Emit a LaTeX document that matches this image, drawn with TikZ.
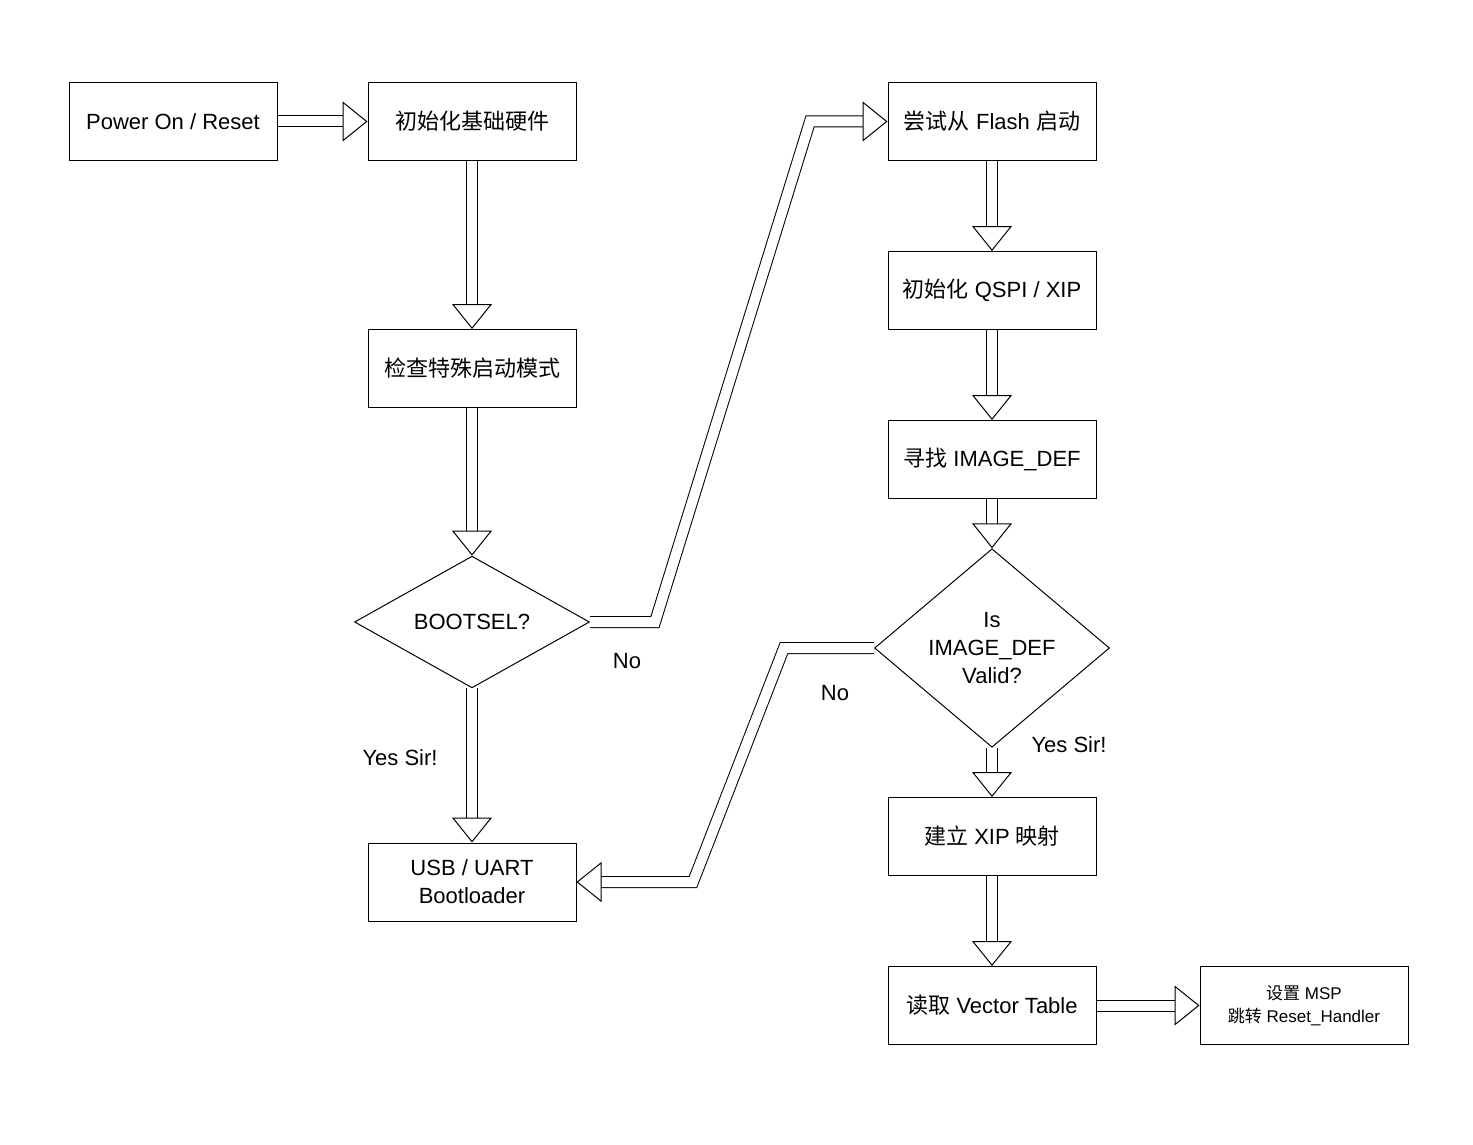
\documentclass[tikz,border=0pt]{standalone}
\usepackage{fontspec}
\setmainfont{Liberation Sans}
\newfontfamily\cjk{Noto Sans CJK SC}
\usetikzlibrary{arrows.meta,shapes.geometric}
\tikzset{
	step box/.style={
		draw,
		line width=1pt,
		minimum width=208pt,
		minimum height=78pt,
		align=center,
		font=\fontsize{22}{28}\selectfont
	},
	check/.style={
		draw,
		diamond,
		line width=1pt,
		minimum width=235pt,
		minimum height=116pt,
		inner sep=0pt,
		align=center,
		font=\fontsize{22}{28}\selectfont
	},
	fat/.style={
		draw,
		line width=1pt,
		double=white,
		double distance=10pt,
		-{Triangle[length=25pt,width=40pt,fill=white,line width=1pt]}
	},
	answer/.style={font=\fontsize{22}{28}\selectfont}
}
\begin{document}
\begin{tikzpicture}[x=1pt, y=-1pt]

\useasboundingbox (0,0) rectangle (1473,1145);

% left column
\node [step box] (power) at (173,121.5) {Power On / Reset};
\node [step box] (init) at (472,121.5) {{\cjk 初始化基础硬件}};
\node [step box] (mode) at (472,368.5) {{\cjk 检查特殊启动模式}};
\node [check] (bootsel) at (472,622) {BOOTSEL?};
\node [step box] (usb) at (472,882) {USB / UART\\Bootloader};

% right column
\node [step box] (flash) at (992,121.5) {{\cjk 尝试从} Flash {\cjk 启动}};
\node [step box] (qspi) at (992,290.5) {{\cjk 初始化} QSPI / XIP};
\node [step box] (find) at (992,459.5) {{\cjk 寻找} IMAGE\_DEF};
\node [check] (valid) at (992,648) {Is\\IMAGE\_DEF\\Valid?};
\node [step box] (map) at (992,836.5) {{\cjk 建立} XIP {\cjk 映射}};
\node [step box] (vector) at (992,1005.5) {{\cjk 读取} Vector Table};
\node [step box, font=\fontsize{17}{23}\selectfont] (jump) at (1304,1005.5) {{\cjk 设置} MSP\\{\cjk 跳转} Reset\_Handler};

\draw [fat] (power) -- (init);
\draw [fat] (init) -- (mode);
\draw [fat] (mode) -- (bootsel);
\draw [fat] (bootsel) -- (usb);
\draw [fat] (bootsel.east) -- (655,622) -- (810,121.5) -- (flash.west);
\draw [fat] (flash) -- (qspi);
\draw [fat] (qspi) -- (find);
\draw [fat] (find) -- (valid);
\draw [fat] (valid.west) -- (784,648) -- (693,882) -- (usb.east);
\draw [fat] (valid) -- (map);
\draw [fat] (map) -- (vector);
\draw [fat] (vector) -- (jump);

\node [answer] (no1) at (627,661) {No};
\node [answer] (yes1) at (400,758) {Yes Sir!};
\node [answer] (no2) at (835,693) {No};
\node [answer] (yes2) at (1069,745) {Yes Sir!};

\end{tikzpicture}
\end{document}
